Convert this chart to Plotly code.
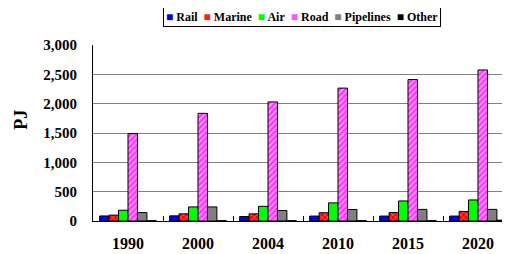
import plotly.graph_objects as go

years = ["1990", "2000", "2004", "2010", "2015", "2020"]
rail = [86, 88, 76, 84, 84, 84]
marine = [100, 122, 122, 141, 145, 163]
air = [183, 240, 250, 309, 342, 359]
road = [1490, 1835, 2030, 2265, 2411, 2574]
pipelines = [144, 240, 178, 196, 198, 198]
other = [5, 5, 5, 5, 5, 15]

series = [
    ("Rail", rail, dict(color="#0000FF"), "#0000FF"),
    ("Marine", marine, dict(color="#FF0000", pattern=dict(shape="x", fgcolor="white", size=4, solidity=0.3, fillmode="overlay")), "#FF2020"),
    ("Air", air, dict(color="#00FF00"), "#00FF00"),
    ("Road", road, dict(color="#FF33FF", pattern=dict(shape="/", fgcolor="white", size=4, solidity=0.45, fillmode="overlay")), "#FF55FF"),
    ("Pipelines", pipelines, dict(color="#808080"), "#808080"),
    ("Other", other, dict(color="#000000"), "#000000"),
]

fig = go.Figure()
legend_parts = []
for name, vals, m, swatch in series:
    m = dict(m)
    m["line"] = dict(color="#000000", width=1)
    fig.add_trace(go.Bar(name=name, x=years, y=vals, marker=m, showlegend=False))
    legend_parts.append(f"<span style='color:{swatch}'>■</span> {name}")

font = "Liberation Serif, Times New Roman, serif"
# page body has an 8px default margin, so the figure is 8px smaller
fig.update_layout(
    width=502, height=246,
    margin=dict(l=85, r=0, t=37, b=33),
    barmode="group", bargap=0.19, bargroupgap=0,
    plot_bgcolor="white", paper_bgcolor="white",
    font=dict(family=font, size=14, color="black"),
    showlegend=False,
)
fig.add_annotation(
    text="<b>" + "&nbsp; ".join(legend_parts) + "</b>",
    xref="paper", yref="paper", x=0.502, y=1.16, xanchor="center", yanchor="middle",
    showarrow=False, bordercolor="black", borderwidth=1, borderpad=2, bgcolor="white",
    font=dict(family=font, size=12, color="black"),
)
fig.add_annotation(
    text="<b>PJ</b>", textangle=-90,
    xref="paper", yref="paper", x=-0.173, y=0.575, xanchor="center", yanchor="middle",
    showarrow=False, font=dict(family=font, size=18, color="black"),
)
fig.update_xaxes(
    type="category", range=[-0.5, 5.457], automargin=False,
    showline=True, linecolor="black", linewidth=1,
    ticks="inside", tickson="boundaries", ticklen=5, tickcolor="black",
    tickfont=dict(family=font, size=16, color="black", weight="bold"),
    ticklabelstandoff=8,
    showgrid=False,
)
fig.update_yaxes(
    range=[0, 3000], tickvals=[0, 500, 1000, 1500, 2000, 2500, 3000],
    tickformat=",d", automargin=False,
    showline=True, linecolor="black", linewidth=1,
    showgrid=True, gridcolor="#808080", gridwidth=1,
    ticks="", ticklabelstandoff=12,
    tickfont=dict(family=font, size=15, color="black", weight="bold"),
    zeroline=False,
)
fig.write_html("out.html")
